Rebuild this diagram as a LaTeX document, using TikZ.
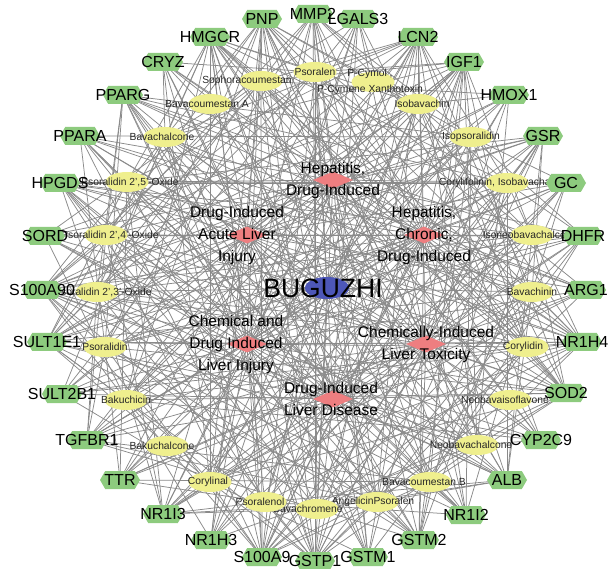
\documentclass[tikz,border=0pt]{standalone}
\usepackage{fontspec}
\setmainfont{Liberation Sans}
\usetikzlibrary{shapes.geometric,shapes.symbols}
\pgfdeclarelayer{bg}
\pgfsetlayers{bg,main}
\definecolor{gfill}{HTML}{8DCB7E}
\definecolor{yfill}{HTML}{EFEF8E}
\definecolor{pfill}{HTML}{EE7E80}
\definecolor{bfill}{HTML}{4D57B8}
\definecolor{ecol}{HTML}{8A8A8A}
\begin{document}
\begin{tikzpicture}[x=1pt,y=-1pt,
  tgt/.style={shape=signal, signal to=west and east, signal pointer angle=120,
    fill=gfill, draw=none, minimum width=40pt, minimum height=18pt, inner sep=0pt},
  tlab/.style={font=\fontsize{16}{16}\selectfont, text=black, inner sep=0pt},
  cmp/.style={ellipse, fill=yfill, draw=none, minimum width=43pt, minimum height=20pt, inner sep=0pt},
  clab/.style={font=\fontsize{10.3}{11}\selectfont, text=black!85, inner sep=0pt},
  dis/.style={diamond, fill=pfill, draw=none, minimum width=40pt, minimum height=17pt, inner sep=0pt},
  dlab/.style={font=\fontsize{15.5}{22}\selectfont, align=center, text=black, inner sep=0pt},
  herb/.style={ellipse, fill=bfill, draw=none, minimum width=44pt, minimum height=22pt, inner sep=0pt},
  hlab/.style={font=\fontsize{26.5}{26.5}\selectfont, text=black, inner sep=0pt},
  edge/.style={draw=ecol, line width=0.75pt}]
\useasboundingbox (0,0) rectangle (608,569);

% compounds
\node[cmp, label={[clab]center:Psoralen}] (c1) at (315,72) {};
\node[cmp, label={[clab,align=center,font=\fontsize{10.3}{16}\selectfont,xshift=-3pt]center:P-Cymol ,\\P-Cymene Xanthotoxin}] (c2) at (373,82) {};
\node[cmp, label={[clab,xshift=4pt]center:Isobavachin}] (c3) at (418,104) {};
\node[cmp, label={[clab]center:Isopsoralidin}] (c4) at (471,137) {};
\node[cmp, label={[clab]center:{Corylifolinin, Isobavachalcone}}] (c5) at (507,183) {};
\node[cmp, label={[clab,xshift=-2pt]center:Isoneobavachalcone}] (c6) at (532,235) {};
\node[cmp, label={[clab]center:Bavachinin}] (c7) at (532,292) {};
\node[cmp, label={[clab,xshift=-4pt]center:Corylidin}] (c8) at (527,347) {};
\node[cmp, label={[clab,xshift=-5pt]center:Neobavaisoflavone}] (c9) at (510,400) {};
\node[cmp, label={[clab,xshift=-6pt]center:Neobavachalcone}] (c10) at (477,445) {};
\node[cmp, label={[clab,xshift=-6pt]center:Bavacoumestan B}] (c11) at (430,482) {};
\node[cmp, label={[clab,xshift=-4pt]center:AngelicinPsoralen}] (c12) at (377,502) {};
\node[cmp, label={[clab,xshift=-9pt]center:Bavachromene}] (c13) at (317,509) {};
\node[cmp, label={[clab,xshift=-5pt]center:Psoralenol}] (c14) at (265,502) {};
\node[cmp, label={[clab,xshift=-2pt]center:Corylinal}] (c15) at (210,482) {};
\node[cmp, label={[clab,xshift=-5pt]center:Bakuchalcone}] (c16) at (167,446) {};
\node[cmp, label={[clab]center:Bakuchicin}] (c17) at (126,400) {};
\node[cmp, label={[clab]center:Psoralidin}] (c18) at (105,347) {};
\node[cmp, label={[clab,xshift=6pt]center:{Psoralidin 2',3'-Oxide}}] (c19) at (97,292) {};
\node[cmp, label={[clab,xshift=4pt]center:{Psoralidin 2',4'-Oxide}}] (c20) at (106,235) {};
\node[cmp, label={[clab,xshift=3pt]center:{Psoralidin 2',5'-Oxide}}] (c21) at (127,182) {};
\node[cmp, label={[clab,xshift=-3pt]center:Bavachalcone}] (c22) at (165,137) {};
\node[cmp, label={[clab,xshift=-3pt]center:Bavacoumestan A}] (c23) at (210,104) {};
\node[cmp, label={[clab,xshift=-14pt]center:Sophoracoumestan}] (c24) at (261,81) {};

% targets
\node[tgt, label={[tlab]center:MMP2}] (t1) at (313,14) {};
\node[tgt, label={[tlab]center:LGALS3}] (t2) at (358,19) {};
\node[tgt, label={[tlab]center:LCN2}] (t3) at (418,37) {};
\node[tgt, label={[tlab]center:IGF1}] (t4) at (464,62) {};
\node[tgt, label={[tlab]center:HMOX1}] (t5) at (509,95) {};
\node[tgt, label={[tlab]center:GSR}] (t6) at (543,136) {};
\node[tgt, label={[tlab]center:GC}] (t7) at (566,183) {};
\node[tgt, label={[tlab]center:DHFR}] (t8) at (583,236) {};
\node[tgt, label={[tlab]center:ARG1}] (t9) at (586,290) {};
\node[tgt, label={[tlab]center:NR1H4}] (t10) at (582,342) {};
\node[tgt, label={[tlab]center:SOD2}] (t11) at (566,393) {};
\node[tgt, label={[tlab]center:CYP2C9}] (t12) at (541,440) {};
\node[tgt, label={[tlab]center:ALB}] (t13) at (507,480) {};
\node[tgt, label={[tlab]center:NR1I2}] (t14) at (466,515) {};
\node[tgt, label={[tlab]center:GSTM2}] (t15) at (419,540) {};
\node[tgt, label={[tlab]center:GSTM1}] (t16) at (368,557) {};
\node[tgt, label={[tlab]center:GSTP1}] (t17) at (315,561) {};
\node[tgt, label={[tlab]center:S100A9}] (t18) at (262,557) {};
\node[tgt, label={[tlab]center:NR1H3}] (t19) at (211,540) {};
\node[tgt, label={[tlab]center:NR1I3}] (t20) at (163,514) {};
\node[tgt, label={[tlab]center:TTR}] (t21) at (120,480) {};
\node[tgt, label={[tlab]center:TGFBR1}] (t22) at (87,440) {};
\node[tgt, label={[tlab]center:SULT2B1}] (t23) at (62,394) {};
\node[tgt, label={[tlab]center:SULT1E1}] (t24) at (47,342) {};
\node[tgt, label={[tlab]center:S100A90}] (t25) at (42,290) {};
\node[tgt, label={[tlab]center:SORD}] (t26) at (45,236) {};
\node[tgt, label={[tlab]center:HPGDS}] (t27) at (60,183) {};
\node[tgt, label={[tlab]center:PPARA}] (t28) at (80,136) {};
\node[tgt, label={[tlab]center:PPARG}] (t29) at (123,95) {};
\node[tgt, label={[tlab]center:CRYZ}] (t30) at (163,62) {};
\node[tgt, label={[tlab]center:HMGCR}] (t31) at (210,37) {};
\node[tgt, label={[tlab]center:PNP}] (t32) at (262,19) {};

% diseases
\node[dis, label={[dlab]center:Hepatitis,\\Drug-Induced}] (d1) at (333,180) {};
\node[dis, label={[dlab,xshift=-10pt]center:Drug-Induced\\Acute Liver\\Injury}] (d2) at (247,235) {};
\node[dis, label={[dlab]center:Hepatitis,\\Chronic,\\Drug-Induced}] (d3) at (424,235) {};
\node[dis, label={[dlab,xshift=-11pt]center:Chemical and\\Drug Induced\\Liver Injury}] (d4) at (247,344) {};
\node[dis, label={[dlab]center:Chemically-Induced\\Liver Toxicity}] (d5) at (426,344) {};
\node[dis, label={[dlab,xshift=-2pt]center:Drug-Induced\\Liver Disease}] (d6) at (333,399) {};

% herb
\node[herb, label={[hlab,xshift=-4pt]center:BUGUZHI}] (h) at (327,288) {};

\begin{pgfonlayer}{bg}
\foreach \i in {1,...,24} \draw[edge] (h.center) -- (c\i.center);
\foreach \j in {1,...,32}{\foreach \d in {1,...,6} \draw[edge] (t\j.center) -- (d\d.center);}
\foreach \i in {1,...,24}{\foreach \j in {1,...,32}{%
  \pgfmathtruncatemacro\k{mod(\i*3+\j*5+\i*\j+\i*\i,7)}%
  \ifnum\k<3 \draw[edge] (c\i.center) -- (t\j.center);\fi}}
\end{pgfonlayer}
\end{tikzpicture}
\end{document}
